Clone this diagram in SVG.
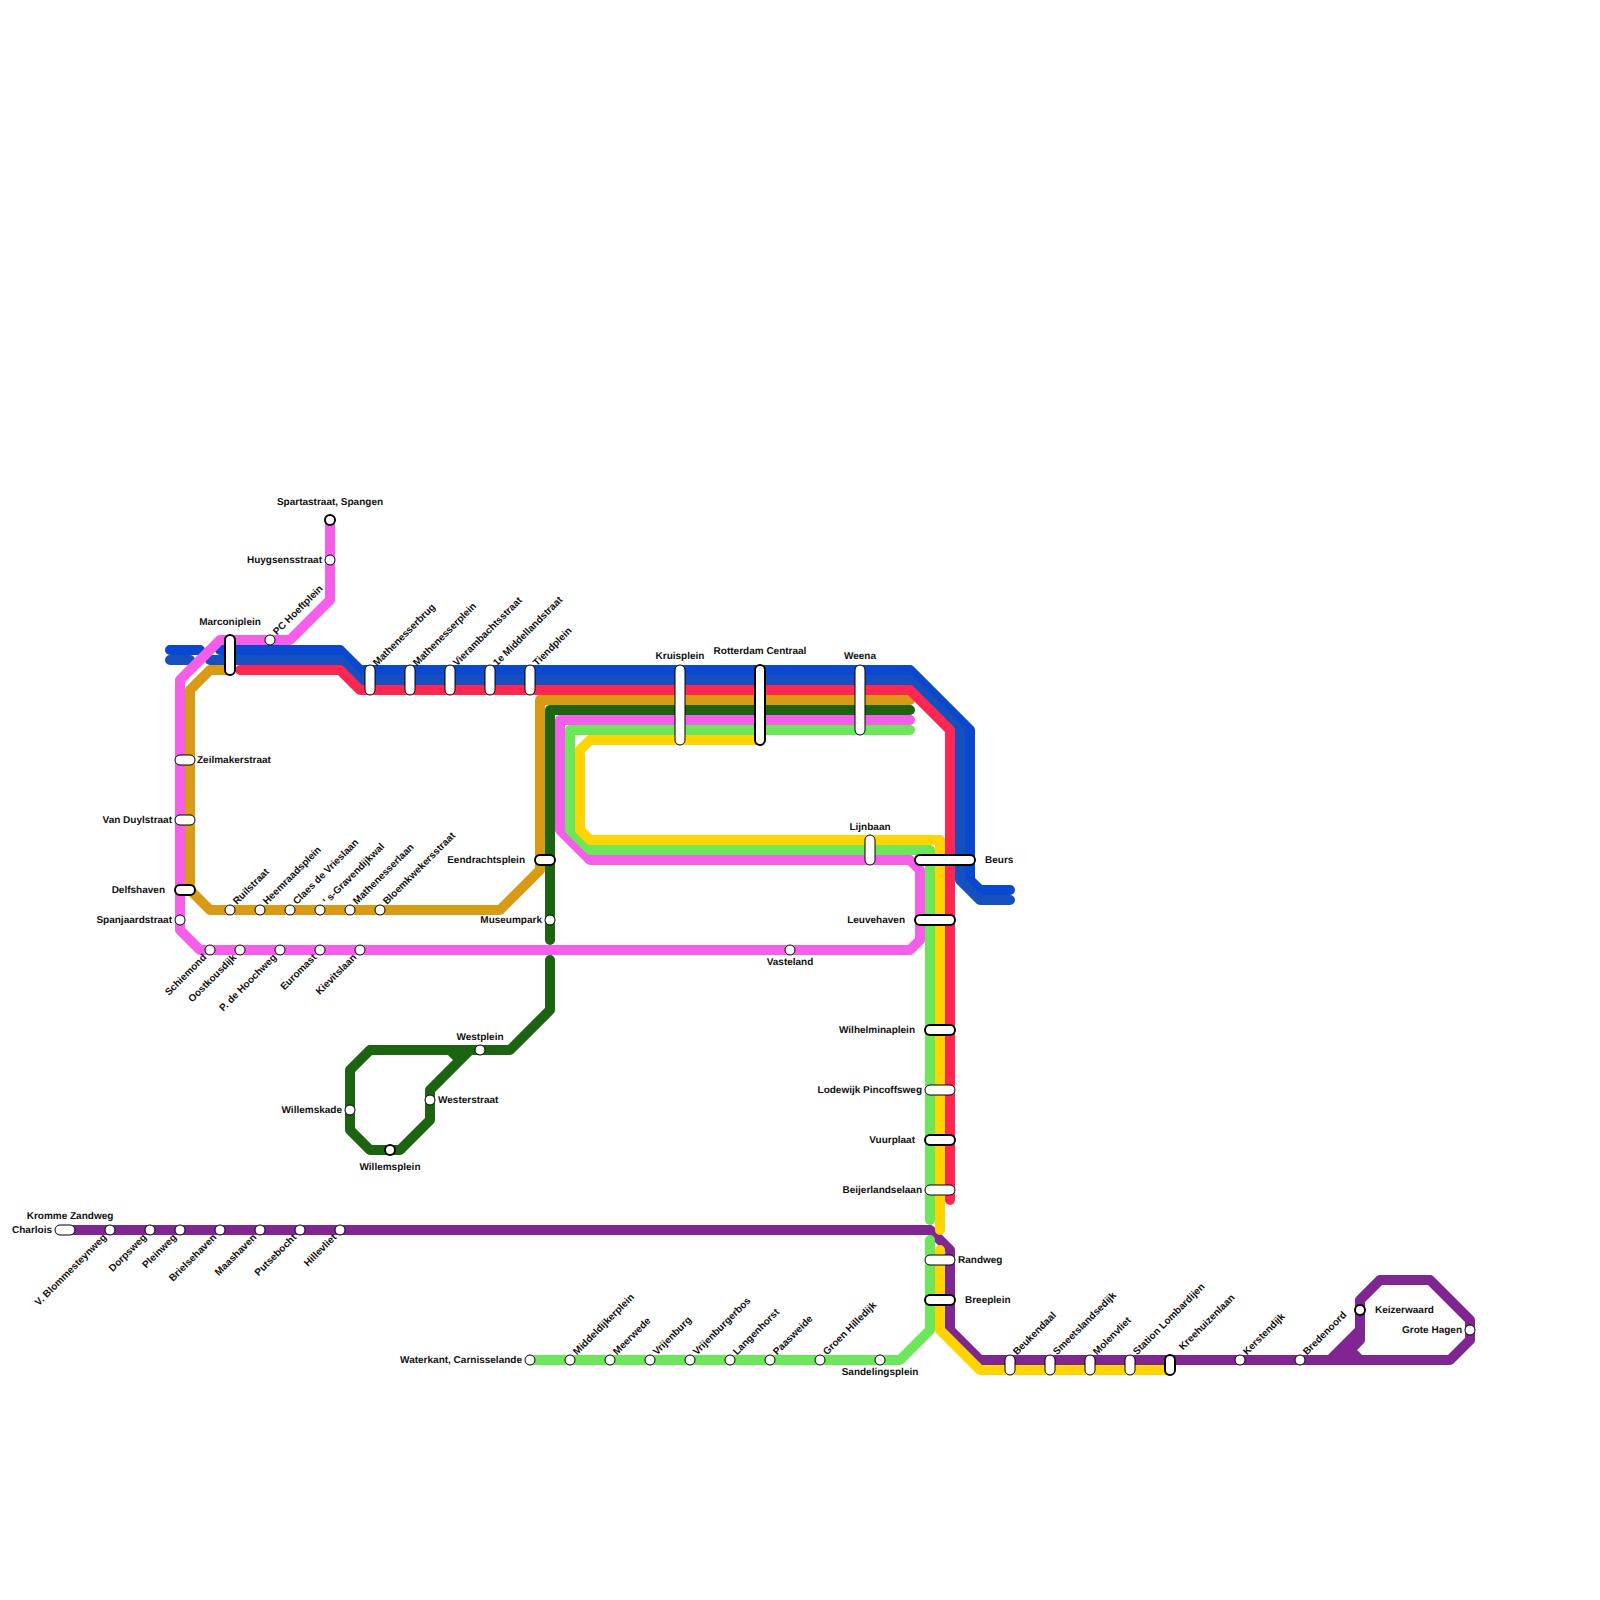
<svg xmlns="http://www.w3.org/2000/svg" width="1600" height="1600" viewBox="0 0 1600 1600">
<style>
.l{fill:none;stroke-width:10;stroke-linecap:round;stroke-linejoin:round}
.b1{stroke:#0b48d0}.b2{stroke:#154fc0}.r{stroke:#ff2752}.g{stroke:#d99b16}.d{stroke:#1c6411}.p{stroke:#f55ee8}.n{stroke:#6ce65a}.y{stroke:#ffd400}.u{stroke:#7f2693}
.s{fill:#fff;stroke:#000;stroke-width:1}
.t{fill:#fff;stroke:#000;stroke-width:2}
text{font-family:"Liberation Sans",Arial,sans-serif;font-weight:700;font-size:10px;fill:#111;text-rendering:geometricPrecision}
.e{text-anchor:end}.m{text-anchor:middle}
</style>
<g id="connectors">
<path class="l b1" d="M170 650H200M220 650H340L360 670H910L970 730V880L980 890H1010"/>
<path class="l b2" d="M170 660H190M210 660H340L360 680H910L960 730V880L980 900H1010"/>
<path class="l g" d="M230 670H210L190 690V890L210 910H500L540 870V700H910"/>
<path class="l r" d="M240 670H340L360 690H910L950 730V1200"/>
<path class="l d" d="M910 710H550V940M550 960V1010L510 1050H370L350 1070V1130L370 1150H400L430 1120V1090L470 1050M450 1050L460 1060"/>
<path class="l p" d="M330 520V600L290 640H220L180 680V930L200 950H910L920 940V870L910 860H590L560 830V720H910"/>
<path class="l u" d="M70 1230H930L950 1250V1330L980 1360H1450L1470 1340V1320L1430 1280H1380L1360 1300V1340L1350 1350L1360 1360M1330 1360L1360 1330M1340 1360L1360 1340"/>
<path class="l n" d="M910 730H570V830L590 850H930V1220M930 1240V1330L900 1360H530"/>
<path class="l y" d="M760 740H590L580 750V830L590 840H940V1230M940 1250V1330L980 1370H1170"/>
</g>
<g id="spartastraat"><circle class="t" cx="330" cy="520" r="5"/><text class="m" x="330" y="505">Spartastraat, Spangen</text></g>
<g id="huygsensstraat"><circle class="s" cx="330" cy="560" r="5"/><text class="e" x="322" y="563">Huygsensstraat</text></g>
<g id="pchoeftplein"><circle class="s" cx="270" cy="640" r="5"/><text transform="translate(277,635.5) rotate(-45)">PC Hoeftplein</text></g>
<g id="marconiplein"><rect class="t" x="225" y="635" width="10" height="40" rx="5"/><text class="m" x="230" y="625">Marconiplein</text></g>
<g id="mathenesserbrug"><rect class="s" x="365" y="665" width="10" height="30" rx="5"/><text transform="translate(377,666.5) rotate(-45)">Mathenesserbrug</text></g>
<g id="mathenesserplein"><rect class="s" x="405" y="665" width="10" height="30" rx="5"/><text transform="translate(417,666.5) rotate(-45)">Mathenesserplein</text></g>
<g id="vierambachtsstraat"><rect class="s" x="445" y="665" width="10" height="30" rx="5"/><text transform="translate(457,666.5) rotate(-45)">Vierambachtsstraat</text></g>
<g id="middellandstraat"><rect class="s" x="485" y="665" width="10" height="30" rx="5"/><text transform="translate(497,666.5) rotate(-45)">1e Middellandstraat</text></g>
<g id="tiendplein"><rect class="s" x="525" y="665" width="10" height="30" rx="5"/><text transform="translate(537,666.5) rotate(-45)">Tiendplein</text></g>
<g id="kruisplein"><rect class="s" x="675" y="665" width="10" height="80" rx="5"/><text class="m" x="680" y="659">Kruisplein</text></g>
<g id="rotterdamcentraal"><rect class="t" x="755" y="665" width="10" height="80" rx="5"/><text class="m" x="760" y="654">Rotterdam Centraal</text></g>
<g id="weena"><rect class="s" x="855" y="665" width="10" height="70" rx="5"/><text class="m" x="860" y="659">Weena</text></g>
<g id="lijnbaan"><rect class="s" x="865" y="835" width="10" height="30" rx="5"/><text class="m" x="870" y="830">Lijnbaan</text></g>
<g id="beurs"><rect class="t" x="915" y="855" width="60" height="10" rx="5"/><text x="985" y="863">Beurs</text></g>
<g id="leuvehaven"><rect class="t" x="915" y="915" width="40" height="10" rx="5"/><text class="e" x="905" y="923">Leuvehaven</text></g>
<g id="wilhelminaplein"><rect class="t" x="925" y="1025" width="30" height="10" rx="5"/><text class="e" x="915" y="1033">Wilhelminaplein</text></g>
<g id="lodewijkpincoffsweg"><rect class="s" x="925" y="1085" width="30" height="10" rx="5"/><text class="e" x="922" y="1093">Lodewijk Pincoffsweg</text></g>
<g id="vuurplaat"><rect class="t" x="925" y="1135" width="30" height="10" rx="5"/><text class="e" x="915" y="1143">Vuurplaat</text></g>
<g id="beijerlandselaan"><rect class="s" x="925" y="1185" width="30" height="10" rx="5"/><text class="e" x="922" y="1193">Beijerlandselaan</text></g>
<g id="randweg"><rect class="s" x="925" y="1255" width="30" height="10" rx="5"/><text x="958" y="1263">Randweg</text></g>
<g id="breeplein"><rect class="t" x="925" y="1295" width="30" height="10" rx="5"/><text x="965" y="1303">Breeplein</text></g>
<g id="beukendaal"><rect class="s" x="1005" y="1355" width="10" height="20" rx="5"/><text transform="translate(1017,1355.5) rotate(-45)">Beukendaal</text></g>
<g id="smeetslandsedijk"><rect class="s" x="1045" y="1355" width="10" height="20" rx="5"/><text transform="translate(1057,1355.5) rotate(-45)">Smeetslandsedijk</text></g>
<g id="molenvliet"><rect class="s" x="1085" y="1355" width="10" height="20" rx="5"/><text transform="translate(1097,1355.5) rotate(-45)">Molenvliet</text></g>
<g id="stationlombardijen"><rect class="s" x="1125" y="1355" width="10" height="20" rx="5"/><text transform="translate(1137,1355.5) rotate(-45)">Station Lombardijen</text></g>
<g id="kreehuizenlaan"><rect class="t" x="1165" y="1355" width="10" height="20" rx="5"/><text transform="translate(1183,1350.5) rotate(-45)">Kreehuizenlaan</text></g>
<g id="kerstendijk"><circle class="s" cx="1240" cy="1360" r="5"/><text transform="translate(1247,1355.5) rotate(-45)">Kerstendijk</text></g>
<g id="bredenoord"><circle class="s" cx="1300" cy="1360" r="5"/><text transform="translate(1307,1355.5) rotate(-45)">Bredenoord</text></g>
<g id="keizerwaard"><circle class="t" cx="1360" cy="1310" r="5"/><text x="1375" y="1313">Keizerwaard</text></g>
<g id="grotehagen"><circle class="s" cx="1470" cy="1330" r="5"/><text class="e" x="1462" y="1333">Grote Hagen</text></g>
<g id="zeilmakerstraat"><rect class="s" x="175" y="755" width="20" height="10" rx="5"/><text x="197" y="763">Zeilmakerstraat</text></g>
<g id="vanduylstraat"><rect class="s" x="175" y="815" width="20" height="10" rx="5"/><text class="e" x="172" y="823">Van Duylstraat</text></g>
<g id="delfshaven"><rect class="t" x="175" y="885" width="20" height="10" rx="5"/><text class="e" x="165" y="893">Delfshaven</text></g>
<g id="spanjaardstraat"><circle class="s" cx="180" cy="920" r="5"/><text class="e" x="172" y="923">Spanjaardstraat</text></g>
<g id="ruilstraat"><circle class="s" cx="230" cy="910" r="5"/><text transform="translate(237,905) rotate(-45)">Ruilstraat</text></g>
<g id="heemraadsplein"><circle class="s" cx="260" cy="910" r="5"/><text transform="translate(267,905) rotate(-45)">Heemraadsplein</text></g>
<g id="claesdevrieslaan"><circle class="s" cx="290" cy="910" r="5"/><text transform="translate(297,905) rotate(-45)">Claes de Vrieslaan</text></g>
<g id="sgravendijkwal"><circle class="s" cx="320" cy="910" r="5"/><text transform="translate(327,905) rotate(-45)">' s-Gravendijkwal</text></g>
<g id="mathenesserlaan"><circle class="s" cx="350" cy="910" r="5"/><text transform="translate(357,905) rotate(-45)">Mathenesserlaan</text></g>
<g id="bloemkwekersstraat"><circle class="s" cx="380" cy="910" r="5"/><text transform="translate(387,905) rotate(-45)">Bloemkwekersstraat</text></g>
<g id="schiemond"><circle class="s" cx="210" cy="950" r="5"/><text class="e" transform="translate(207,958) rotate(-45)">Schiemond</text></g>
<g id="oostkousdijk"><circle class="s" cx="240" cy="950" r="5"/><text class="e" transform="translate(237,958) rotate(-45)">Oostkousdijk</text></g>
<g id="pdehoochweg"><circle class="s" cx="280" cy="950" r="5"/><text class="e" transform="translate(277,958) rotate(-45)">P. de Hoochweg</text></g>
<g id="euromast"><circle class="s" cx="320" cy="950" r="5"/><text class="e" transform="translate(317,958) rotate(-45)">Euromast</text></g>
<g id="kievitslaan"><circle class="s" cx="360" cy="950" r="5"/><text class="e" transform="translate(357,958) rotate(-45)">Kievitslaan</text></g>
<g id="vasteland"><circle class="s" cx="790" cy="950" r="5"/><text class="m" x="790" y="965">Vasteland</text></g>
<g id="eendrachtsplein"><rect class="t" x="535" y="855" width="20" height="10" rx="5"/><text class="e" x="525" y="863">Eendrachtsplein</text></g>
<g id="museumpark"><circle class="s" cx="550" cy="920" r="5"/><text class="e" x="542" y="923">Museumpark</text></g>
<g id="westplein"><circle class="s" cx="480" cy="1050" r="5"/><text class="m" x="480" y="1040">Westplein</text></g>
<g id="westerstraat"><circle class="s" cx="430" cy="1100" r="5"/><text x="438" y="1103">Westerstraat</text></g>
<g id="willemskade"><circle class="s" cx="350" cy="1110" r="5"/><text class="e" x="342" y="1113">Willemskade</text></g>
<g id="willemsplein"><circle class="t" cx="390" cy="1150" r="5"/><text class="m" x="390" y="1170">Willemsplein</text></g>
<g id="charlois"><rect class="s" x="55" y="1225" width="20" height="10" rx="5"/><text class="e" x="52" y="1233">Charlois</text><text class="m" x="70" y="1219">Kromme Zandweg</text></g>
<g id="blommesteynweg"><circle class="s" cx="110" cy="1230" r="5"/><text class="e" transform="translate(107,1238) rotate(-45)">V. Blommesteynweg</text></g>
<g id="dorpsweg"><circle class="s" cx="150" cy="1230" r="5"/><text class="e" transform="translate(147,1238) rotate(-45)">Dorpsweg</text></g>
<g id="pleinweg"><circle class="s" cx="180" cy="1230" r="5"/><text class="e" transform="translate(177,1238) rotate(-45)">Pleinweg</text></g>
<g id="brielsehaven"><circle class="s" cx="220" cy="1230" r="5"/><text class="e" transform="translate(217,1238) rotate(-45)">Brielsehaven</text></g>
<g id="maashaven"><circle class="s" cx="260" cy="1230" r="5"/><text class="e" transform="translate(257,1238) rotate(-45)">Maashaven</text></g>
<g id="putsebocht"><circle class="s" cx="300" cy="1230" r="5"/><text class="e" transform="translate(297,1238) rotate(-45)">Putsebocht</text></g>
<g id="hillevliet"><circle class="s" cx="340" cy="1230" r="5"/><text class="e" transform="translate(337,1238) rotate(-45)">Hillevliet</text></g>
<g id="waterkant"><circle class="s" cx="530" cy="1360" r="5"/><text class="e" x="522" y="1363">Waterkant, Carnisselande</text></g>
<g id="middeldijkerplein"><circle class="s" cx="570" cy="1360" r="5"/><text transform="translate(577,1355.5) rotate(-45)">Middeldijkerplein</text></g>
<g id="meerwede"><circle class="s" cx="610" cy="1360" r="5"/><text transform="translate(617,1355.5) rotate(-45)">Meerwede</text></g>
<g id="vrijenburg"><circle class="s" cx="650" cy="1360" r="5"/><text transform="translate(657,1355.5) rotate(-45)">Vrijenburg</text></g>
<g id="vrijenburgerbos"><circle class="s" cx="690" cy="1360" r="5"/><text transform="translate(697,1355.5) rotate(-45)">Vrijenburgerbos</text></g>
<g id="langenhorst"><circle class="s" cx="730" cy="1360" r="5"/><text transform="translate(737,1355.5) rotate(-45)">Langenhorst</text></g>
<g id="paasweide"><circle class="s" cx="770" cy="1360" r="5"/><text transform="translate(777,1355.5) rotate(-45)">Paasweide</text></g>
<g id="groenhilledijk"><circle class="s" cx="820" cy="1360" r="5"/><text transform="translate(827,1355.5) rotate(-45)">Groen Hilledijk</text></g>
<g id="sandelingsplein"><circle class="s" cx="880" cy="1360" r="5"/><text class="m" x="880" y="1375">Sandelingsplein</text></g>
</svg>
